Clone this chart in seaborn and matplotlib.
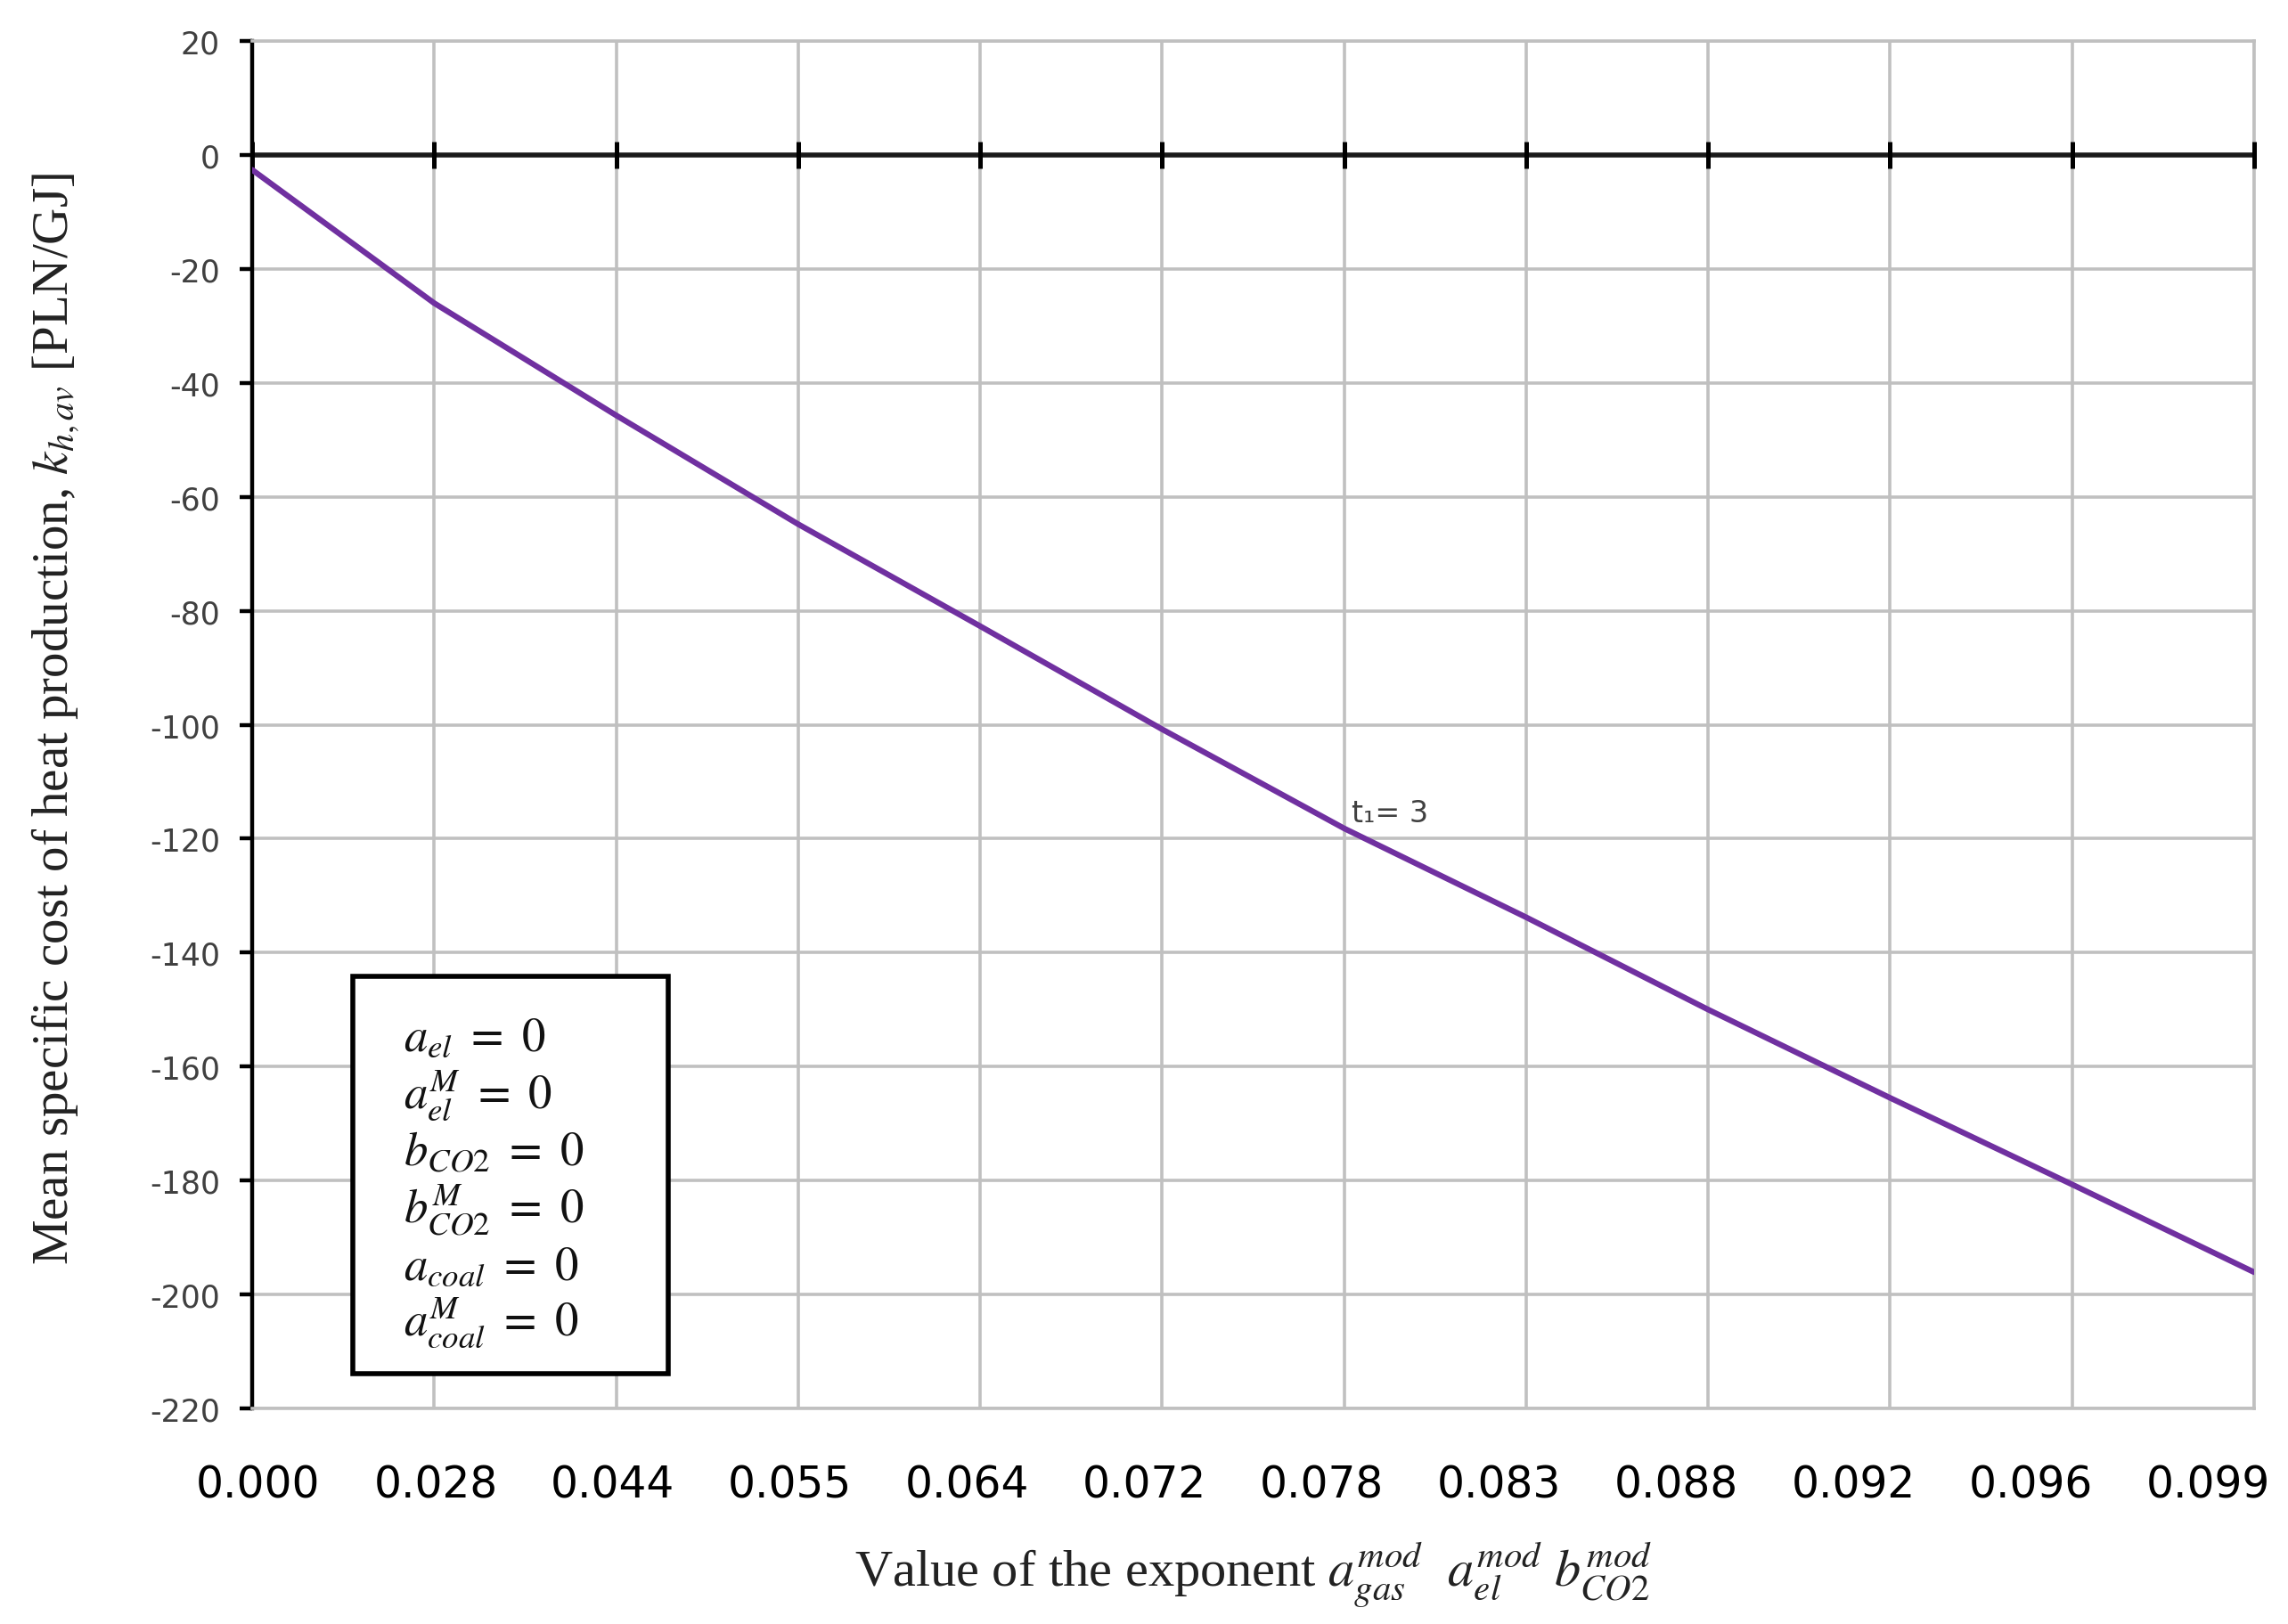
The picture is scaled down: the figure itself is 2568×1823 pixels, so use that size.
import pandas as pd
import matplotlib.pyplot as plt
import matplotlib.patches as mpatches
import seaborn as sns

# === dados ===
exponent_labels = ["0.000", "0.028", "0.044", "0.055", "0.064", "0.072",
                   "0.078", "0.083", "0.088", "0.092", "0.096", "0.099"]
cost_values = [-2.6, -26.0, -45.7, -64.8, -82.7, -100.8,
               -118.2, -133.8, -150.0, -165.5, -180.7, -196.1]
y_ticks = list(range(-220, 21, 20))
box_lines = [r"$a_{el}\ =\ 0$", r"$a_{el}^{M}\ =\ 0$", r"$b_{CO2}\ =\ 0$",
             r"$b_{CO2}^{M}\ =\ 0$", r"$a_{coal}\ =\ 0$", r"$a_{coal}^{M}\ =\ 0$"]
curve_label = "t\u2081= 3"

df = pd.DataFrame({"exponent": exponent_labels, "cost": cost_values})
n = len(exponent_labels)

sns.set_theme(style="white")
plt.rcParams["font.family"] = ["DejaVu Sans"]
plt.rcParams["mathtext.fontset"] = "stix"
plt.rcParams["axes.unicode_minus"] = False

fig = plt.figure(figsize=(12.84, 9.12), dpi=200)
ax = fig.add_axes([0.1102, 0.1327, 0.8750, 0.8415])

sns.lineplot(data=df, x="exponent", y="cost", sort=False,
             color="#7030A0", linewidth=2.3, ax=ax, zorder=4)

ax.set_xlim(0, n - 1)
ax.set_ylim(-220, 20)
ax.set_yticks(y_ticks)

# grade vertical nas categorias; rótulos levemente comprimidos como no original
ax.set_xticks(range(n), minor=True)
ax.set_xticks([0.034 + 0.974 * i for i in range(n)], exponent_labels)
ax.xaxis.grid(False, which="major")
ax.xaxis.grid(True, which="minor", color="#c0c0c0", linewidth=1.3)
ax.yaxis.grid(True, which="major", color="#c0c0c0", linewidth=1.3)
ax.set_axisbelow(True)

for side in ["top", "right", "bottom"]:
    ax.spines[side].set_color("#c0c0c0")
    ax.spines[side].set_linewidth(1.3)
ax.spines["left"].set_color("black")
ax.spines["left"].set_linewidth(1.6)

ax.tick_params(axis="x", which="both", bottom=False, labelsize=17.5, pad=16,
               labelcolor="black")
ax.tick_params(axis="y", left=True, direction="out", length=5, width=1.6,
               color="black", labelsize=12.5, labelcolor="#404040", pad=8)

# linha do zero com marcas cruzando
ax.axhline(0, color="#1a1a1a", linewidth=2.0, zorder=3)
ax.plot(range(n), [0] * n, linestyle="none", marker="|", markersize=11,
        markeredgewidth=1.8, color="black", zorder=3, clip_on=False)

ax.set_xlabel(r"Value of the exponent $a_{gas}^{mod}\ \ a_{el}^{mod}\ b_{CO2}^{mod}$",
              fontsize=21, family="Liberation Serif", color="#222222")
ax.xaxis.set_label_coords(0.5, -0.096)
ax.set_ylabel(r"Mean specific cost of heat production, $k_{h,av}$ [PLN/GJ]",
              fontsize=20.5, family="Liberation Serif", color="#222222")
ax.yaxis.set_label_coords(-0.0855, 0.505)

ax.text(6.04, -118.0, curve_label, fontsize=12, color="#404040", va="bottom", ha="left")

# caixa com os parâmetros
ax.add_patch(mpatches.Rectangle((0.0503, 0.0254), 0.1575, 0.2906, transform=ax.transAxes,
                                facecolor="white", edgecolor="black", linewidth=2.0,
                                zorder=5))
box_y = [0.2619, 0.2195, 0.1785, 0.1362, 0.0945, 0.0534]
for txt, yy in zip(box_lines, box_y):
    ax.text(0.0756, yy, txt, transform=ax.transAxes, fontsize=19,
            va="baseline", ha="left", color="#111111", zorder=6)

fig.savefig("out.png", dpi=200)
